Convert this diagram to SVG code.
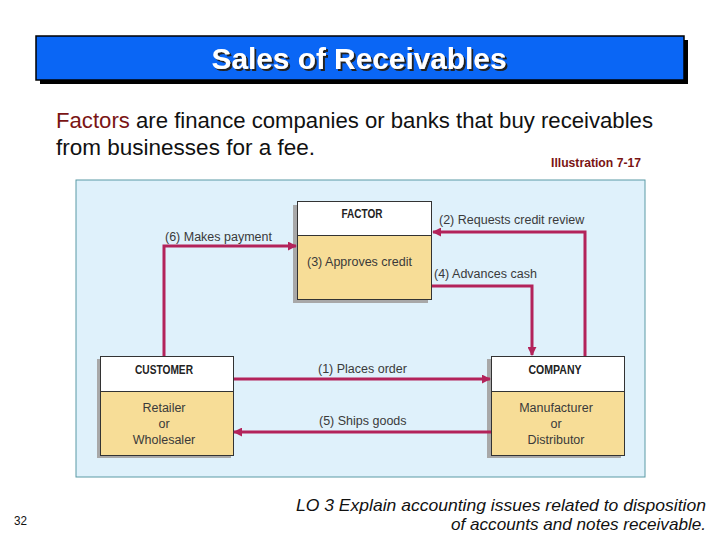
<svg xmlns="http://www.w3.org/2000/svg" width="720" height="540" viewBox="0 0 720 540">
<defs>
<style>
.lbl{font-family:"Liberation Sans",Arial,sans-serif;font-size:12.5px;fill:#3a3a3a}
.hdr{font-family:"Liberation Sans",Arial,sans-serif;font-size:12.5px;font-weight:bold;fill:#222;text-anchor:middle}
.body{font-family:"Liberation Sans",Arial,sans-serif;font-size:12.5px;fill:#3a3a3a;text-anchor:middle}
.conn{fill:none;stroke:#b3235a;stroke-width:3}
.shadow{fill:#a8a8a8}
.head{fill:#ffffff;stroke:#333;stroke-width:1}
.bod{fill:#f7dd97;stroke:#333;stroke-width:1}
</style>
<marker id="ah" viewBox="0 0 10 10" refX="9" refY="5" markerWidth="3" markerHeight="3" orient="auto" markerUnits="strokeWidth">
<path d="M0,0 L10,5 L0,10 z" fill="#b3235a"/>
</marker>
<filter id="ts" x="-5%" y="-20%" width="110%" height="140%">
<feDropShadow dx="2" dy="2" stdDeviation="0.3" flood-color="#222" flood-opacity="1"/>
</filter>
</defs>
<rect width="720" height="540" fill="#ffffff"/>
<g id="title">
<rect x="40" y="40" width="648" height="44" fill="#000"/>
<rect x="36" y="36" width="648" height="44" fill="#0a66f5" stroke="#000" stroke-width="1.5"/>
<text x="359" y="69" text-anchor="middle" font-family="Liberation Sans,Arial,sans-serif" font-size="29" font-weight="bold" fill="#ffffff" textLength="295" lengthAdjust="spacingAndGlyphs" filter="url(#ts)">Sales of Receivables</text>
</g>
<g id="intro" font-family="Liberation Sans,Arial,sans-serif" font-size="21.5" fill="#111">
<text x="56" y="128" textLength="597" lengthAdjust="spacingAndGlyphs"><tspan fill="#7a1414">Factors</tspan> are finance companies or banks that buy receivables</text>
<text x="56" y="155" textLength="259" lengthAdjust="spacingAndGlyphs">from businesses for a fee.</text>
</g>
<text id="illus" x="551" y="167" font-family="Liberation Sans,Arial,sans-serif" font-size="12" font-weight="bold" fill="#7a1414" textLength="90" lengthAdjust="spacingAndGlyphs">Illustration 7-17</text>
<rect id="panel" x="76" y="180" width="569" height="297" fill="#dff1fb" stroke="#5a9aa5" stroke-width="1"/>
<g id="factor">
<rect class="shadow" x="293" y="205" width="135" height="98"/>
<rect class="head" x="297.5" y="201.5" width="134" height="34"/>
<rect class="bod" x="297.5" y="235.5" width="134" height="64"/>
<text class="hdr" x="362" y="218" textLength="41" lengthAdjust="spacingAndGlyphs">FACTOR</text>
<text class="lbl" x="307" y="266">(3)  Approves credit</text>
</g>
<g id="customer">
<rect class="shadow" x="97" y="359" width="134" height="99"/>
<rect class="head" x="100.5" y="356.5" width="133" height="35"/>
<rect class="bod" x="100.5" y="391.5" width="133" height="64"/>
<text class="hdr" x="164" y="374" textLength="58" lengthAdjust="spacingAndGlyphs">CUSTOMER</text>
<text class="body" x="164" y="412">Retailer</text>
<text class="body" x="164" y="428">or</text>
<text class="body" x="164" y="444">Wholesaler</text>
</g>
<g id="company">
<rect class="shadow" x="487" y="359" width="134" height="99"/>
<rect class="head" x="491.5" y="356.5" width="133" height="35"/>
<rect class="bod" x="491.5" y="391.5" width="133" height="64"/>
<text class="hdr" x="555" y="374" textLength="53" lengthAdjust="spacingAndGlyphs">COMPANY</text>
<text class="body" x="556" y="412">Manufacturer</text>
<text class="body" x="556" y="428">or</text>
<text class="body" x="556" y="444">Distributor</text>
</g>
<g id="connectors">
<path class="conn" d="M164,356 V246 H296" marker-end="url(#ah)"/>
<path class="conn" d="M585,356 V232 H433" marker-end="url(#ah)"/>
<path class="conn" d="M432,286 H532 V355" marker-end="url(#ah)"/>
<path class="conn" d="M234,379 H490" marker-end="url(#ah)"/>
<path class="conn" d="M491,432 H234" marker-end="url(#ah)"/>
</g>
<g id="conn-labels">
<text class="lbl" x="165" y="241">(6)  Makes payment</text>
<text class="lbl" x="439" y="224">(2) Requests credit review</text>
<text class="lbl" x="434" y="278">(4) Advances cash</text>
<text class="lbl" x="318" y="373">(1) Places order</text>
<text class="lbl" x="319" y="425">(5) Ships goods</text>
</g>
<g id="footer" font-family="Liberation Sans,Arial,sans-serif" fill="#111">
<text x="14" y="525" font-size="12" textLength="13" lengthAdjust="spacingAndGlyphs">32</text>
<text x="706" y="511" font-size="17" font-style="italic" text-anchor="end" textLength="410" lengthAdjust="spacingAndGlyphs">LO 3  Explain accounting issues related to disposition</text>
<text x="706" y="530" font-size="17" font-style="italic" text-anchor="end" textLength="255" lengthAdjust="spacingAndGlyphs">of accounts and notes receivable.</text>
</g>
</svg>
